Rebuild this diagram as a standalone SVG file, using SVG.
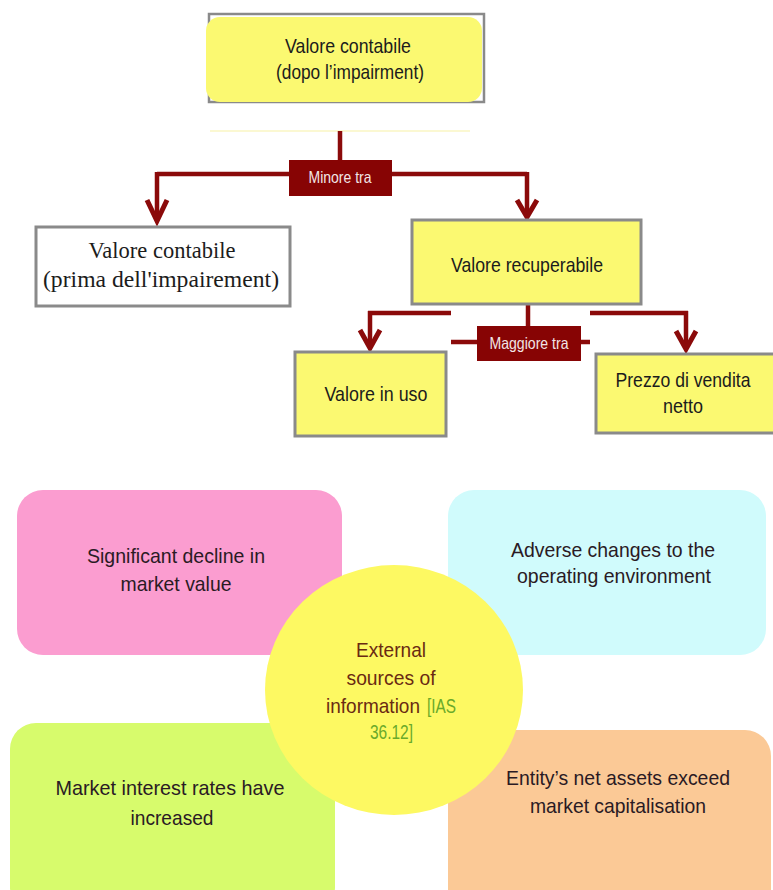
<svg xmlns="http://www.w3.org/2000/svg" width="773" height="890" viewBox="0 0 773 890">
<style>
.sans{font-family:"Liberation Sans",Arial,sans-serif;font-size:21px;fill:#1c1c1c;text-anchor:middle}
.serif{font-family:"Liberation Serif","Times New Roman",serif;font-size:22.5px;fill:#1c1c1c;text-anchor:middle}
.lbl{font-family:"Liberation Sans",Arial,sans-serif;font-size:16.5px;fill:#f2e6e6;text-anchor:middle}
.ybox{fill:#fbf971;stroke:#8a8a8a;stroke-width:3}
.conn{fill:none;stroke:#8b0a0a;stroke-width:4.5}
.head{fill:none;stroke:#8b0a0a;stroke-width:5;stroke-linejoin:miter}
.tag{fill:#870404}
.bt{font-family:"Liberation Sans",Arial,sans-serif;font-size:21px;fill:#2a1a24;text-anchor:middle}
.ct{font-family:"Liberation Sans",Arial,sans-serif;font-size:21px;fill:#6a2a12;text-anchor:middle}
.gt{font-family:"Liberation Sans",Arial,sans-serif;font-size:20px;fill:#6aaa2a}
</style>
<rect width="773" height="890" fill="#ffffff"/>
<line x1="210" y1="131" x2="470" y2="131" stroke="#fbf8d2" stroke-width="2"/>

<g id="connectors">
  <path class="conn" d="M340,131 V165"/>
  <path class="conn" d="M157,174 H527"/>
  <path class="conn" d="M157,172 V221"/>
  <path class="head" d="M147,200 L157,221 L167,200"/>
  <path class="conn" d="M527,172 V217"/>
  <path class="head" d="M517,200 L527,217 L537,200"/>
  <path class="conn" d="M528,304 V330"/>
  <path class="conn" d="M368,313 H451"/>
  <path class="conn" d="M370,311 V347"/>
  <path class="head" d="M360,330 L370,348 L380,330"/>
  <path class="conn" d="M451,342 H590"/>
  <path class="conn" d="M590,313 H688"/>
  <path class="conn" d="M686,311 V348"/>
  <path class="head" d="M676,331 L686,349 L696,331"/>
</g>

<g id="node-valore-dopo">
  <rect x="209" y="14" width="275" height="88" fill="none" stroke="#8a8a8a" stroke-width="2.5"/>
  <rect x="206" y="17" width="276" height="85" rx="14" fill="#fbf971"/>
  <text class="sans" x="348" y="53" textLength="126" lengthAdjust="spacingAndGlyphs">Valore contabile</text>
  <text class="sans" x="350" y="79" textLength="148" lengthAdjust="spacingAndGlyphs">(dopo l’impairment)</text>
</g>

<g id="tag-minore">
  <rect class="tag" x="289" y="160" width="103" height="36"/>
  <text class="lbl" x="340" y="183" textLength="63" lengthAdjust="spacingAndGlyphs">Minore tra</text>
</g>

<g id="node-valore-prima">
  <rect x="36" y="227" width="254" height="79" fill="#ffffff" stroke="#8a8a8a" stroke-width="3"/>
  <text class="serif" x="162" y="258">Valore contabile</text>
  <text class="serif" x="161" y="287" textLength="236" lengthAdjust="spacingAndGlyphs">(prima dell'impairement)</text>
</g>

<g id="node-recuperabile">
  <rect class="ybox" x="412" y="220" width="229" height="84"/>
  <text class="sans" x="527" y="272" textLength="152" lengthAdjust="spacingAndGlyphs">Valore recuperabile</text>
</g>

<g id="tag-maggiore">
  <rect class="tag" x="477" y="326" width="104" height="35"/>
  <text class="lbl" x="529" y="349" textLength="79" lengthAdjust="spacingAndGlyphs">Maggiore tra</text>
</g>

<g id="node-uso">
  <rect class="ybox" x="295" y="352" width="151" height="84"/>
  <text class="sans" x="376" y="401" textLength="103" lengthAdjust="spacingAndGlyphs">Valore in uso</text>
</g>

<g id="node-prezzo">
  <rect class="ybox" x="596" y="354" width="180" height="79"/>
  <text class="sans" x="683" y="387" textLength="135" lengthAdjust="spacingAndGlyphs">Prezzo di vendita</text>
  <text class="sans" x="683" y="413" textLength="40" lengthAdjust="spacingAndGlyphs">netto</text>
</g>

<g id="node-decline">
  <rect x="17" y="490" width="325" height="165" rx="26" fill="#fb9dd0"/>
  <text class="bt" x="176" y="563" textLength="178" lengthAdjust="spacingAndGlyphs">Significant decline in</text>
  <text class="bt" x="176" y="591" textLength="111" lengthAdjust="spacingAndGlyphs">market value</text>
</g>

<g id="node-adverse">
  <rect x="448" y="490" width="318" height="165" rx="26" fill="#d0fbfc"/>
  <text class="bt" x="613" y="557" textLength="204" lengthAdjust="spacingAndGlyphs">Adverse changes to the</text>
  <text class="bt" x="614" y="583" textLength="194" lengthAdjust="spacingAndGlyphs">operating environment</text>
</g>

<g id="node-interest">
  <rect x="10" y="723" width="325" height="190" rx="26" fill="#d7fb6c"/>
  <text class="bt" x="170" y="795" textLength="229" lengthAdjust="spacingAndGlyphs">Market interest rates have</text>
  <text class="bt" x="172" y="825" textLength="83" lengthAdjust="spacingAndGlyphs">increased</text>
</g>

<g id="node-assets">
  <rect x="448" y="730" width="323" height="190" rx="26" fill="#fbc996"/>
  <text class="bt" x="618" y="785" textLength="224" lengthAdjust="spacingAndGlyphs">Entity’s net assets exceed</text>
  <text class="bt" x="618" y="813" textLength="176" lengthAdjust="spacingAndGlyphs">market capitalisation</text>
</g>

<g id="node-external">
  <ellipse cx="394" cy="690" rx="129" ry="125" fill="#fdf962"/>
  <text class="ct" x="391" y="657" textLength="70" lengthAdjust="spacingAndGlyphs">External</text>
  <text class="ct" x="391" y="685" textLength="89" lengthAdjust="spacingAndGlyphs">sources of</text>
  <text class="ct" x="373" y="713" textLength="94" lengthAdjust="spacingAndGlyphs">information</text>
  <text class="gt" x="427" y="713" textLength="29" lengthAdjust="spacingAndGlyphs">[IAS</text>
  <text class="gt" x="370" y="739" textLength="43" lengthAdjust="spacingAndGlyphs">36.12]</text>
</g>
</svg>
